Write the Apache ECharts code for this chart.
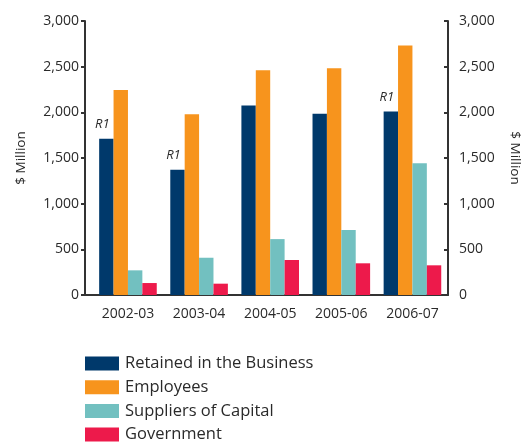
<!DOCTYPE html>
<html>
<head>
<meta charset="utf-8">
<script src="https://cdn.jsdelivr.net/npm/echarts@6/dist/echarts.min.js"></script>
<style>
  html, body { margin: 0; padding: 0; background: #fff; }
  #chart { width: 530px; height: 443px; }
</style>
</head>
<body>
<div id="chart"></div>
<script>
// Distribution of value added, $ Million
var categories = ['2002-03', '2003-04', '2004-05', '2005-06', '2006-07'];
var retained = [1710, 1370, 2075, 1985, 2010];
var employees = [2245, 1980, 2462, 2482, 2733];
var suppliers = [270, 408, 612, 712, 1442];
var government = [131, 124, 383, 347, 325];
// Years whose "Retained" figure carries a revision marker
var revised = [true, true, false, false, true];
var seriesNames = ['Retained in the Business', 'Employees', 'Suppliers of Capital', 'Government'];

var FONT = '"Open Sans", "Noto Sans", sans-serif';
var TXT = '#2a2a2a';
var AX = '#333';

var chart = echarts.init(document.getElementById('chart'));

function fmt(v) { return v.toLocaleString('en-US'); }

function barSeries(name, data, color) {
  return {
    name: name,
    type: 'bar',
    xAxisIndex: 1,
    yAxisIndex: 2,
    data: data,
    barWidth: 14.4,
    barGap: '0%',
    itemStyle: { color: color },
    emphasis: { disabled: true },
    silent: true
  };
}

var retainedData = retained.map(function (v, i) {
  return {
    value: v,
    label: {
      show: revised[i],
      formatter: 'R1',
      position: 'top',
      offset: [-4, -3],
      fontStyle: 'italic',
      fontFamily: FONT,
      fontSize: 13,
      color: TXT
    }
  };
});

// One legend block per row so the list stays in a single column
var legends = seriesNames.map(function (n, i) {
  return {
    orient: 'vertical',
    left: 80,
    top: 350 + i * 23.7,
    padding: 5,
    itemWidth: 34,
    itemHeight: 14,
    itemGap: 0,
    icon: 'rect',
    selectedMode: false,
    textStyle: { fontFamily: FONT, fontSize: 16.5, color: TXT, padding: [0, 0, 0, 1] },
    data: [n]
  };
});

chart.setOption({
  animation: false,
  grid: [
    { left: 85, right: 75, top: 21, bottom: 148 },
    { left: 92.4, right: 82, top: 21, bottom: 148 }
  ],
  legend: legends,
  xAxis: [
    {
      gridIndex: 0, type: 'value', min: 0, max: 1,
      axisLine: { show: true, onZero: false, lineStyle: { color: AX, width: 2 } },
      axisTick: { show: false }, axisLabel: { show: false }, splitLine: { show: false }
    },
    {
      gridIndex: 1, type: 'category', data: categories,
      axisLine: { show: false }, axisTick: { show: false },
      axisLabel: { fontFamily: FONT, fontSize: 14, color: TXT, margin: 12 }
    }
  ],
  yAxis: [
    {
      gridIndex: 0, type: 'value', position: 'left', min: 0, max: 3000, interval: 500,
      name: '$ Million', nameLocation: 'middle', nameGap: 57, nameRotate: 90,
      nameTextStyle: { fontFamily: FONT, fontSize: 13.5, color: TXT },
      axisLine: { show: true, lineStyle: { color: AX, width: 2 } },
      axisTick: { show: true, length: 4, lineStyle: { color: AX, width: 2 } },
      axisLabel: { fontFamily: FONT, fontSize: 14, color: TXT, margin: 6, formatter: fmt },
      splitLine: { show: false }
    },
    {
      gridIndex: 0, type: 'value', position: 'right', min: 0, max: 3000, interval: 500,
      name: '$ Million', nameLocation: 'middle', nameGap: 60, nameRotate: -90,
      nameTextStyle: { fontFamily: FONT, fontSize: 13.5, color: TXT },
      axisLine: { show: true, lineStyle: { color: AX, width: 2 } },
      axisTick: { show: true, inside: true, length: 4, lineStyle: { color: AX, width: 2 } },
      axisLabel: { fontFamily: FONT, fontSize: 14, color: TXT, margin: 11, formatter: fmt },
      splitLine: { show: false }
    },
    {
      gridIndex: 1, type: 'value', min: 0, max: 3000, show: false
    }
  ],
  series: [
    barSeries(seriesNames[0], retainedData, '#00396b'),
    barSeries(seriesNames[1], employees, '#f7941d'),
    barSeries(seriesNames[2], suppliers, '#72c0c0'),
    barSeries(seriesNames[3], government, '#ed1a4b')
  ]
});
</script>
</body>
</html>
